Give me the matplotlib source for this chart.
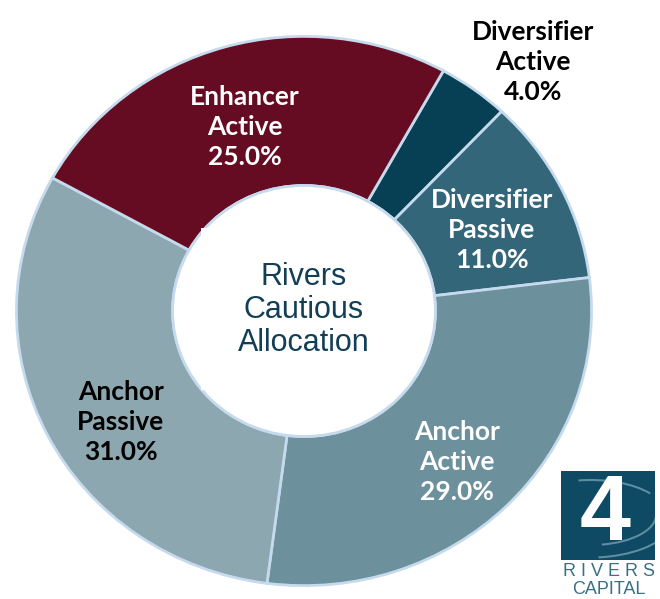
import matplotlib.pyplot as plt
from matplotlib.patches import Rectangle, Circle, Arc

# datos del donut
labels = ['Diversifier\nActive', 'Diversifier\nPassive', 'Anchor\nActive',
          'Anchor\nPassive', 'Enhancer\nActive']
values = [4.0, 11.0, 29.0, 31.0, 25.0]
colors = ['#073F55', '#34667A', '#6C909C', '#8CA7AF', '#650C22']
text_colors = ['black', 'white', 'white', 'black', 'white']

# posiciones de etiquetas (pixeles de la figura)
label_pos = [(533, 62), (492, 230), (457, 462), (121, 422), (245, 127)]

W, H = 660, 599
fig = plt.figure(figsize=(W / 100, H / 100), dpi=100)

ax = fig.add_axes([15 / W, 12 / H, 578 / W, 552 / H])
ax.pie(values, colors=colors, startangle=61, counterclock=False, radius=1,
       wedgeprops=dict(width=0.543, edgecolor='#C6DAEE', linewidth=2))
ax.set_aspect('auto')
ax.set_xlim(-1.005, 1.005)
ax.set_ylim(-1.005, 1.005)
# borde del hueco central
ax.add_patch(Circle((0, 0), 0.457, facecolor='white', edgecolor='#C6DAEE', linewidth=2))
# caja de texto blanca (artefacto del original)
ax.add_patch(Rectangle(((200 - 304) / 289, (311 - 390) / 276), 190 / 289, 162 / 276,
                       facecolor='white', edgecolor='none', zorder=3))

for lab, v, c, (px, py) in zip(labels, values, text_colors, label_pos):
    fig.text(px / W, 1 - py / H, f'{lab}\n{v:.1f}%', ha='center', va='center',
             color=c, fontsize=19, fontweight='bold', family='Lato', linespacing=1.28)

fig.text(304 / W, 1 - 310 / H, 'Rivers\nCautious\nAllocation', ha='center', va='center',
         color='#123F56', fontsize=22, family='Liberation Sans', linespacing=1.15)

# logo 4 Rivers Capital
lax = fig.add_axes([561 / W, 1 - 560 / H, 94 / W, 89 / H])
lax.set_xlim(0, 94)
lax.set_ylim(0, 89)
lax.axis('off')
bg = Rectangle((0, 0), 94, 89, facecolor='#0E4A63', edgecolor='none')
lax.add_patch(bg)
for w, h, a1, a2 in [(150, 70, 20, 110), (130, 60, 290, 360), (170, 85, 280, 350)]:
    arc = Arc((30, 45), w, h, theta1=a1, theta2=a2, color='#5E8CA0', linewidth=1.5)
    lax.add_patch(arc)
    arc.set_clip_path(bg)
lax.text(44, 44, '4', ha='center', va='center', color='white', fontsize=66,
         fontweight='bold', family='Liberation Sans')

fig.text(609 / W, 1 - 572 / H, 'R I V E R S', ha='center', va='center', color='#3A7085',
         fontsize=13, family='Liberation Sans')
fig.text(609 / W, 1 - 590 / H, 'CAPITAL', ha='center', va='center', color='#3A7085',
         fontsize=13, family='Liberation Sans')

fig.savefig('out.png', dpi=100)
